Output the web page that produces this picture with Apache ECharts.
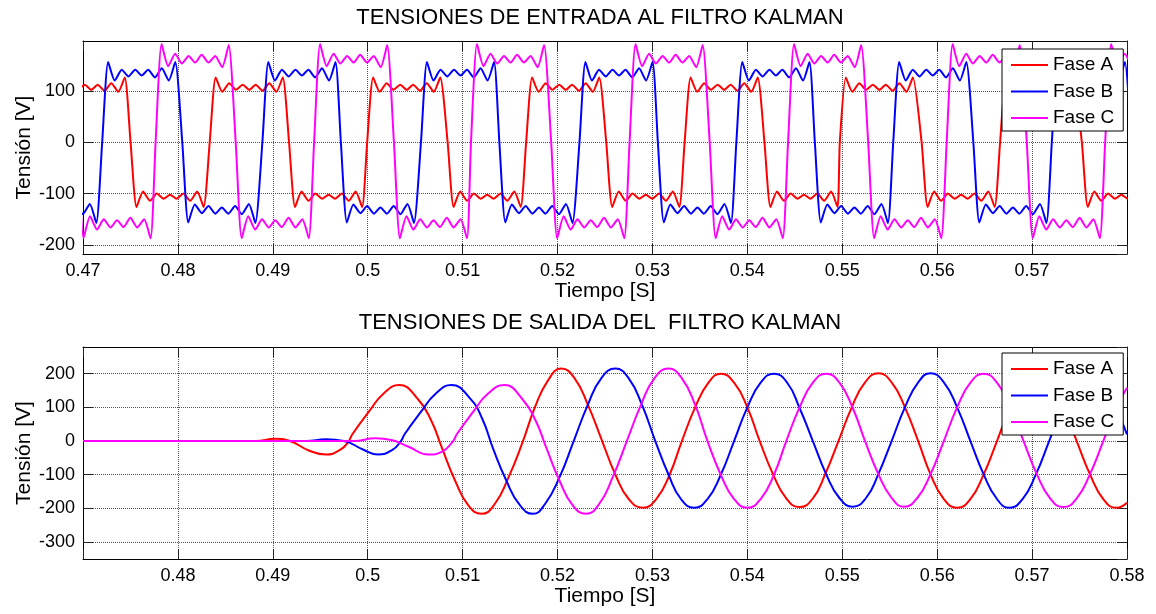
<!DOCTYPE html>
<html>
<head>
<meta charset="utf-8">
<title>Tensiones filtro Kalman</title>
<script src="https://cdn.jsdelivr.net/npm/echarts@6/dist/echarts.min.js"></script>
<style>
  html, body { margin: 0; padding: 0; background: #fff; }
  #chart { width: 1156px; height: 614px; }
</style>
</head>
<body>
<div id="chart"></div>
<script>
const names = ['Fase A', 'Fase B', 'Fase C'];
const colors = ['#ff0000', '#0000ff', '#ff00ff'];

// upper plot: zero crossing times of each phase (s)
const edgesA = [0.4667, 0.47501, 0.48335, 0.49171, 0.49994, 0.50842, 0.51669, 0.52513, 0.53339, 0.5418, 0.54974, 0.55836, 0.56663, 0.57524, 0.5835];
const edgesB = [0.4637, 0.47202, 0.48046, 0.4889, 0.49717, 0.50561, 0.51387, 0.52231, 0.53057, 0.53884, 0.54711, 0.55537, 0.56381, 0.57208, 0.58046];
const edgesC = [0.46942, 0.47765, 0.48609, 0.49435, 0.50276, 0.51088, 0.51933, 0.52759, 0.53603, 0.54429, 0.55273, 0.561, 0.56944, 0.5777, 0.5861];
// first plateau after edges[0]: high (true) or low (false)
const startHigh = [true, false, false];

// ripple extrema on each plateau: time after the edge (s) and volts
const rippleT = [0.00063, 0.00132, 0.00206, 0.00277, 0.00348, 0.00417, 0.00485, 0.00557, 0.00628, 0.00702, 0.0077];
const highA = [126, 98, 115, 102, 112, 102, 112, 100, 115, 98, 126];
const lowA = [-126, -96, -114, -100, -110, -102, -110, -100, -114, -96, -126];
const highB = [156, 120, 141, 128, 141, 130, 141, 126, 144, 120, 156];
const lowB = [-156, -121, -138, -124, -139, -127, -139, -124, -140, -120, -157];
const highC = [191, 148, 172, 153, 168, 155, 170, 155, 168, 146, 189];
const lowC = [-187, -144, -170, -150, -166, -152, -165, -147, -166, -150, -187];

// lower plot: filter output, [time, volts]
const outA = [[0.47, 0], [0.4882, 0], [0.4902, 7], [0.4918, 0], [0.4938, -28], [0.4956, -40], [0.4972, -24],
  [0.498, 0], [0.4984, 21], [0.5002, 90], [0.5016, 139], [0.5033, 166], [0.5053, 124], [0.5067, 60],
  [0.5078, -19], [0.5092, -117], [0.5106, -191], [0.512, -216], [0.5134, -186], [0.5148, -110],
  [0.5163, -5], [0.5176, 99], [0.519, 180], [0.5204, 215], [0.5218, 186], [0.5232, 107], [0.5247, 0],
  [0.5261, -100], [0.5275, -172], [0.529, -198], [0.5304, -172], [0.5318, -100], [0.5331, 0], [0.5345, 100],
  [0.5359, 173], [0.5372, 200], [0.5386, 173], [0.54, 100], [0.5413, 0], [0.5427, -98], [0.5441, -170],
  [0.5455, -196], [0.5469, -170], [0.5482, -98], [0.5496, 0], [0.551, 100], [0.5524, 174], [0.5538, 201],
  [0.5552, 174], [0.5566, 100], [0.558, 0], [0.5593, -99], [0.5607, -172], [0.5621, -198], [0.5635, -172],
  [0.5649, -99], [0.5663, 0], [0.5677, 100], [0.5691, 173], [0.5705, 200], [0.5719, 173], [0.5733, 100],
  [0.5747, 0], [0.5761, -99], [0.5775, -172], [0.5789, -198], [0.58, -183]];
const outB = [[0.47, 0], [0.4935, 0], [0.4956, 5], [0.4975, 0], [0.4995, -25], [0.5011, -40], [0.5026, -26],
  [0.5035, 0], [0.5039, 21], [0.5057, 90], [0.5071, 139], [0.5088, 166], [0.5108, 126], [0.5121, 64],
  [0.5132, -22], [0.5146, -117], [0.516, -189], [0.5174, -216], [0.5187, -186], [0.5202, -108], [0.5217, 0],
  [0.5232, 108], [0.5246, 186], [0.5261, 215], [0.5275, 186], [0.5289, 107], [0.5303, 0], [0.5317, -100],
  [0.533, -172], [0.5344, -198], [0.5358, -172], [0.5372, -100], [0.5386, 0], [0.54, 100], [0.5414, 173],
  [0.5428, 200], [0.5442, 173], [0.5455, 98], [0.5469, 0], [0.5483, -98], [0.5497, -169], [0.5511, -195],
  [0.5525, -169], [0.5538, -98], [0.5552, 0], [0.5566, 100], [0.558, 174], [0.5593, 201], [0.5607, 174],
  [0.5621, 100], [0.5635, 0], [0.5649, -99], [0.5663, -172], [0.5676, -198], [0.569, -172], [0.5704, -99],
  [0.5718, 0], [0.5732, 100], [0.5746, 173], [0.576, 200], [0.5774, 173], [0.5788, 100], [0.58, 20]];
const outC = [[0.47, 0], [0.4985, 0], [0.5008, 8], [0.5025, 3], [0.5043, -17], [0.5064, -40], [0.5078, -32],
  [0.509, 0], [0.5094, 21], [0.5112, 90], [0.5126, 139], [0.5144, 166], [0.5163, 124], [0.5177, 60],
  [0.5188, -19], [0.5202, -117], [0.5216, -191], [0.523, -216], [0.5244, -186], [0.5258, -108], [0.5273, 0],
  [0.5288, 108], [0.5302, 186], [0.5317, 215], [0.5331, 186], [0.5345, 107], [0.5358, 0], [0.5372, -100],
  [0.5386, -172], [0.54, -198], [0.5414, -172], [0.5428, -100], [0.5441, 0], [0.5455, 100], [0.5469, 173],
  [0.5483, 200], [0.5497, 173], [0.5511, 98], [0.5524, 0], [0.5538, -98], [0.5552, -169], [0.5565, -195],
  [0.5579, -169], [0.5593, -98], [0.5607, 0], [0.5621, 100], [0.5635, 173], [0.5649, 200], [0.5663, 173],
  [0.5677, 100], [0.5691, 0], [0.5705, -98], [0.5719, -170], [0.5733, -196], [0.5747, -170], [0.5761, -98],
  [0.5775, 0], [0.5789, 100], [0.58, 158]];

function squareWave(edges, high, hi, lo) {
  const pts = [];
  for (let i = 0; i < edges.length - 1; i++) {
    const prof = (i % 2 === 0) === high ? hi : lo;
    pts.push([edges[i], 0]);
    rippleT.forEach((dt, k) => pts.push([edges[i] + dt, prof[k]]));
  }
  pts.push([edges[edges.length - 1], 0]);
  return pts;
}

const inA = squareWave(edgesA, startHigh[0], highA, lowA);
const inB = squareWave(edgesB, startHigh[1], highB, lowB);
const inC = squareWave(edgesC, startHigh[2], highC, lowC);

const FONT = 'Liberation Sans, Arial, sans-serif';
const fmtTime = hide => v => {
  const s = +v.toFixed(2);
  return s === hide ? '' : String(s);
};
const fmtVolt = v => (Math.abs(v - Math.round(v / 100) * 100) < 1e-6 ? String(Math.round(v)) : '');

const gridLine = { show: true, lineStyle: { color: '#555', width: 1, type: [1, 1] } };
const tick = { show: true, inside: true, length: 10, lineStyle: { color: '#222' } };
const line = { show: true, onZero: false, lineStyle: { color: '#000', width: 1 } };

function xAxes(grid, hide) {
  return [
    {
      type: 'value', gridIndex: grid, min: 0.47, max: 0.58, interval: 0.01,
      name: 'Tiempo [S]', nameLocation: 'middle', nameGap: 27, nameMoveOverlap: false,
      nameTextStyle: { fontFamily: FONT, fontSize: 21, color: '#000' },
      axisLine: line, axisTick: tick, splitLine: gridLine,
      axisLabel: { fontFamily: FONT, fontSize: 18, color: '#000', margin: 8, formatter: fmtTime(hide) }
    },
    {
      type: 'value', gridIndex: grid, position: 'top', min: 0.47, max: 0.58, interval: 0.01,
      axisLine: line, axisTick: tick, splitLine: { show: false }, axisLabel: { show: false }
    }
  ];
}

function yAxes(grid, min, max) {
  return [
    {
      type: 'value', gridIndex: grid, min, max,
      name: 'Tensión [V]', nameLocation: 'middle', nameGap: 48, nameMoveOverlap: false,
      nameTextStyle: { fontFamily: FONT, fontSize: 21, color: '#000' },
      axisLine: line, axisTick: tick, splitLine: gridLine,
      axisLabel: { fontFamily: FONT, fontSize: 18, color: '#000', margin: 8, formatter: fmtVolt,
        showMinLabel: false, showMaxLabel: false }
    },
    {
      type: 'value', gridIndex: grid, position: 'right', min, max,
      axisLine: line, axisTick: tick, splitLine: { show: false }, axisLabel: { show: false }
    }
  ];
}

function lineSeries(name, data, grid, color, smooth) {
  return {
    name, type: 'line', data, xAxisIndex: grid * 2, yAxisIndex: grid * 2,
    showSymbol: false, smooth, color,
    lineStyle: { color, width: 2 }
  };
}

function legend(top) {
  return {
    data: names, orient: 'vertical', left: 1002, top,
    icon: 'rect', itemWidth: 37, itemHeight: 2, itemGap: 6.5, itemTextGap: 6,
    padding: [6, 9, 3, 9], borderColor: '#000', borderWidth: 1, backgroundColor: '#fff',
    textStyle: { fontFamily: FONT, fontSize: 19, color: '#000', lineHeight: 20 },
    selectedMode: false
  };
}

const chart = echarts.init(document.getElementById('chart'));
chart.setOption({
  animation: false,
  backgroundColor: '#fff',
  grid: [
    { left: 83, top: 41, width: 1044, height: 213 },
    { left: 83, top: 347, width: 1044, height: 212 }
  ],
  xAxis: [...xAxes(0, 0.58), ...xAxes(1, 0.47)],
  yAxis: [...yAxes(0, -217.5, 197), ...yAxes(1, -350, 279)],
  legend: [legend(49), legend(353)],
  graphic: [
    { type: 'text', x: 600, y: 18, style: { text: 'TENSIONES DE ENTRADA AL FILTRO KALMAN', fontFamily: FONT,
      fontSize: 22, fill: '#000', align: 'center', verticalAlign: 'middle' } },
    { type: 'text', x: 600, y: 323, style: { text: 'TENSIONES DE SALIDA DEL  FILTRO KALMAN', fontFamily: FONT,
      fontSize: 22, fill: '#000', align: 'center', verticalAlign: 'middle' } }
  ],
  series: [
    lineSeries(names[0], inA, 0, colors[0], 0.2),
    lineSeries(names[1], inB, 0, colors[1], 0.2),
    lineSeries(names[2], inC, 0, colors[2], 0.2),
    lineSeries(names[0], outA, 1, colors[0], 0.5),
    lineSeries(names[1], outB, 1, colors[1], 0.5),
    lineSeries(names[2], outC, 1, colors[2], 0.5)
  ]
});
</script>
</body>
</html>
